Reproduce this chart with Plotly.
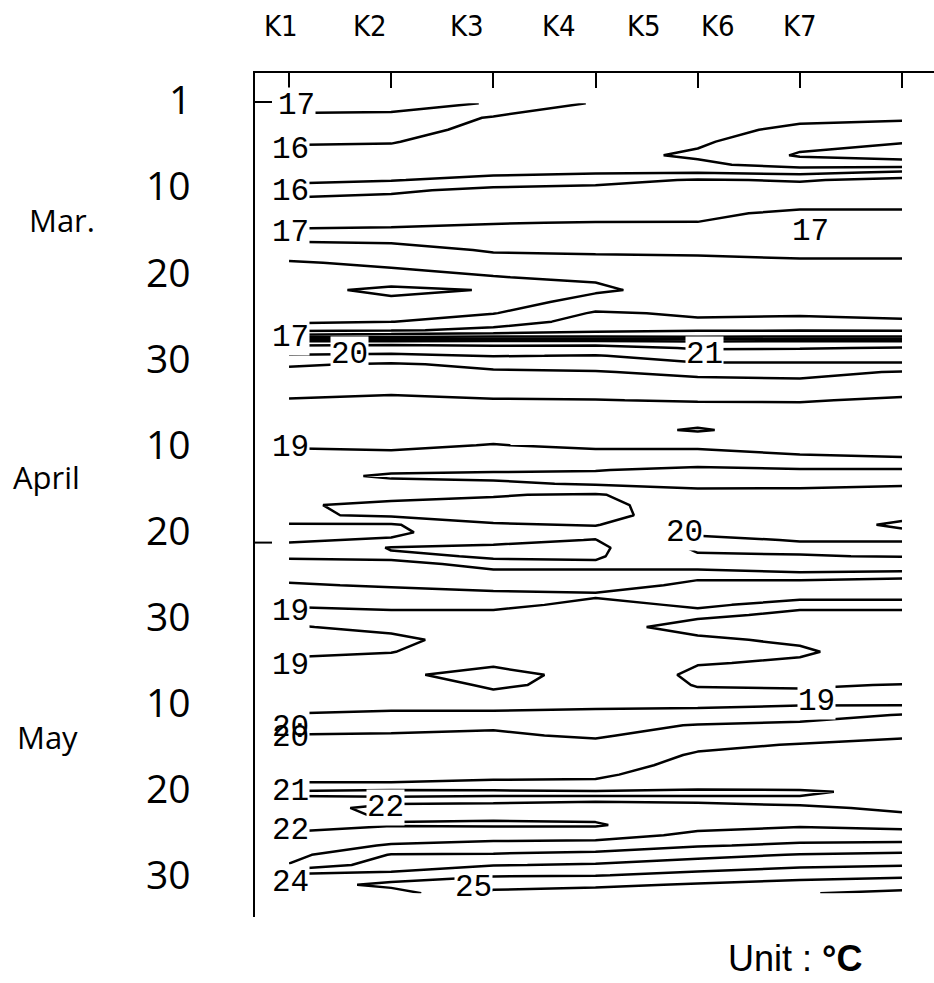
import numpy as np
import plotly.graph_objects as go

# grid positions along the transect (x) and row positions (y, in ten-day label units)
x_pos = [0, 1, 2, 3, 4, 5, 6]
row_pos = [-0.02, 0.15, 0.29, 0.43, 0.59, 0.70, 0.79, 0.88, 1.00, 1.11,
           1.27, 1.38, 1.54, 1.70, 1.85, 2.02, 2.17, 2.31, 2.44, 2.54,
           2.64, 2.71, 2.78, 2.85, 2.94, 3.04, 3.13, 3.28, 3.46, 3.63,
           3.81, 3.99, 4.16, 4.28, 4.35, 4.44, 4.57, 4.69, 4.81, 4.92,
           5.01, 5.10, 5.19, 5.29, 5.38, 5.51, 5.63, 5.74, 5.86, 5.98,
           6.12, 6.27, 6.41, 6.54, 6.68, 6.80, 6.92, 7.03, 7.15, 7.27,
           7.39, 7.50, 7.62, 7.74, 7.85, 7.97, 8.05, 8.15, 8.24, 8.34,
           8.44, 8.56, 8.68, 8.79, 8.91, 9.03, 9.14, 9.24]

# temperature (deg C) columns at each x position
t_x0 = [17.4, 16.8, 16.5, 16.1, 15.7, 15.6, 15.7, 15.85, 16.3, 17.2,
        17.4, 17.15, 16.8, 17.3, 16.95, 16.6, 16.4, 16.5, 16.7, 16.8,
        17.8, 19.4, 22.4, 21.7, 20.9, 20.1, 19.8, 19.4, 18.95, 18.7,
        18.6, 18.9, 19.4, 19.5, 19.6, 19.7, 19.5, 19.1, 19.15, 20.1,
        20.3, 20.1, 19.8, 19.1, 18.8, 18.85, 19.05, 19.2, 19.05, 18.8,
        19.05, 19.2, 19.1, 18.9, 18.7, 18.6, 18.6, 18.7, 19.05, 19.5,
        20.05, 20.3, 20.4, 20.5, 20.7, 21.1, 22.1, 21.9, 21.7, 21.6,
        21.8, 22.1, 22.4, 22.7, 23.05, 25.3, 25.4, 24.9]
t_x1 = [17.3, 16.8, 16.5, 16.05, 15.7, 15.6, 15.7, 15.95, 16.8, 17.3,
        17.4, 17.1, 16.8, 17.2, 17.1, 16.8, 15.7, 16.3, 16.8, 16.98,
        17.9, 19.6, 22.4, 21.6, 20.8, 19.9, 19.6, 19.1, 18.95, 18.7,
        18.7, 18.9, 19.2, 19.8, 20.15, 19.7, 19.3, 18.8, 18.85, 20.1,
        20.2, 19.9, 18.95, 19.1, 18.9, 18.8, 18.95, 19.2, 19.1, 18.9,
        18.85, 19.15, 19.02, 18.8, 18.1, 18.6, 18.7, 18.85, 19.1, 19.6,
        20.1, 20.3, 20.4, 20.5, 20.7, 21.1, 22.3, 21.8, 22.2, 22.1,
        21.95, 22.4, 23.1, 24.05, 24.6, 25.2, 26.3, 25.5]
t_x2 = [16.95, 15.9, 15.6, 15.5, 15.5, 15.6, 15.8, 16.3, 17.3, 17.4,
        17.3, 17.02, 16.8, 16.95, 17.2, 16.98, 16.08, 16.5, 16.95, 17.6,
        18.2, 19.8, 22.5, 21.7, 21.05, 20.2, 19.9, 19.3, 18.97, 18.7,
        18.8, 19.02, 19.5, 19.9, 20.2, 19.85, 19.05, 18.8, 18.75, 19.05,
        19.3, 19.15, 18.9, 18.95, 19.1, 18.9, 18.85, 19.1, 19.1, 18.9,
        18.8, 18.7, 18.6, 18.1, 17.8, 17.85, 18.2, 18.7, 19.2, 19.9,
        20.1, 20.3, 20.4, 20.6, 20.8, 21.2, 22.2, 21.8, 22.3, 22.1,
        21.9, 22.6, 23.3, 24.1, 24.95, 25.9, 26.7, 27.2]
t_x3 = [15.9, 15.5, 15.4, 15.3, 15.3, 15.5, 15.9, 16.6, 17.4, 17.5,
        17.3, 16.98, 16.7, 16.9, 17.2, 17.1, 16.85, 17.4, 18.1, 18.3,
        18.7, 19.8, 22.5, 21.6, 20.95, 20.3, 19.95, 19.4, 18.98, 18.5,
        18.4, 18.9, 19.3, 19.95, 20.3, 20.1, 18.9, 18.7, 18.7, 18.97,
        19.2, 18.98, 18.8, 18.9, 19.1, 18.9, 18.8, 19.05, 18.9, 18.85,
        18.8, 18.8, 18.7, 18.5, 18.2, 18.3, 18.7, 18.85, 19.2, 19.7,
        19.9, 20.2, 20.4, 20.6, 20.85, 21.2, 22.1, 21.9, 22.4, 22.2,
        21.9, 22.6, 23.4, 24.3, 25.1, 25.95, 26.8, 27.4]
t_x4 = [15.5, 15.4, 15.3, 15.15, 14.85, 15.2, 15.95, 17.1, 17.5, 17.5,
        17.2, 16.98, 16.7, 16.85, 17.2, 17.3, 17.4, 17.6, 17.9, 18.1,
        18.9, 19.8, 22.3, 22.1, 21.4, 20.9, 20.2, 19.7, 19.05, 18.6,
        17.9, 18.9, 19.3, 20.3, 20.35, 20.15, 19.8, 19.6, 19.5, 19.6,
        19.85, 20.2, 20.15, 19.9, 19.1, 18.9, 19.1, 19.1, 19.05, 18.9,
        19.2, 18.9, 18.8, 18.95, 19.2, 19.05, 18.8, 18.9, 19.2, 20.05,
        20.4, 20.8, 21.1, 21.3, 21.5, 21.8, 22.1, 21.9, 22.2, 22.35,
        22.7, 23.2, 23.9, 24.7, 25.5, 26.3, 27.1, 27.7]
t_x5 = [15.4, 15.2, 14.8, 14.3, 13.9, 14.6, 15.7, 16.9, 17.5, 17.5,
        16.8, 16.6, 16.5, 16.8, 17.1, 17.3, 17.4, 17.6, 17.95, 18.1,
        18.95, 19.9, 22.4, 22.05, 21.4, 20.9, 20.2, 19.8, 19.05, 18.7,
        18.5, 18.75, 19.15, 20.1, 20.2, 20.2, 19.7, 19.6, 19.6, 19.7,
        19.85, 19.95, 20.2, 19.95, 19.3, 18.9, 19.1, 19.1, 18.9, 19.1,
        19.3, 19.1, 18.9, 19.1, 19.2, 19.05, 18.9, 18.95, 19.6, 20.2,
        20.6, 21.05, 21.2, 21.3, 21.5, 21.7, 22.1, 21.9, 22.05, 22.4,
        22.9, 23.4, 24.2, 25.05, 25.8, 26.6, 27.4, 27.95]
t_x6 = [15.3, 15.1, 14.7, 14.05, 13.6, 14.5, 16.2, 17.3, 17.5, 17.5,
        16.8, 16.6, 16.5, 16.8, 17.1, 17.3, 17.4, 17.6, 17.9, 18.05,
        18.9, 19.9, 22.4, 21.95, 21.4, 20.9, 19.95, 19.4, 18.9, 18.6,
        18.5, 18.8, 19.05, 20.1, 20.2, 20.05, 19.8, 19.6, 19.85, 20.1,
        19.9, 19.95, 20.2, 20.05, 19.2, 18.9, 19.2, 19.1, 18.9, 19.1,
        19.3, 19.4, 19.4, 19.3, 19.2, 18.98, 18.8, 18.95, 20.05, 20.4,
        20.9, 21.2, 21.3, 21.4, 21.5, 21.6, 21.8, 21.9, 21.95, 22.05,
        22.7, 23.4, 24.3, 25.2, 25.95, 26.8, 27.6, 28.2]

stations = ["K1", "K2", "K3", "K4", "K5", "K6", "K7"]
station_pos = [-0.08, 0.79, 1.74, 2.64, 3.47, 4.2, 5.0]

day_labels = ["1", "10", "20", "30", "10", "20", "30", "10", "20", "30"]
months = ["Mar.", "April", "May"]
month_pos = [1.35, 4.36, 7.41]

# contour labels: (text, x, y)
contour_labels = [
    ("17", 0.07, 0.01), ("16", 0.01, 0.52), ("16", 0.01, 1.01),
    ("17", 0.01, 1.49), ("17", 5.10, 1.48), ("17", 0.01, 2.72),
    ("20", 0.59, 2.92), ("21", 4.07, 2.93), ("19", 0.01, 4.01),
    ("20", 3.87, 5.01), ("19", 0.01, 5.94), ("19", 0.01, 6.57),
    ("19", 5.16, 6.99), ("20", 0.01, 7.30), ("20", 0.01, 7.42),
    ("21", 0.01, 8.05), ("22", 0.94, 8.23), ("22", 0.01, 8.51),
    ("24", 0.01, 9.11), ("25", 1.81, 9.17),
]

# small marks on the left frame (row positions)
frame_marks = [-0.035, 5.13]

z = np.array([t_x0, t_x1, t_x2, t_x3, t_x4, t_x5, t_x6]).T

fig = go.Figure()
fig.add_trace(go.Contour(
    x=x_pos, y=row_pos, z=z,
    contours=dict(coloring="lines", start=13, end=29, size=1, showlabels=False),
    line=dict(width=2.5, smoothing=0),
    colorscale=[[0, "black"], [1, "black"]],
    showscale=False, hoverinfo="skip",
))

W, H = 934, 983
L, R, T, B = 255, 0, 73, 66
plot_w = W - L - R

annotations = []
for i, (txt, xx, yy) in enumerate(contour_labels):
    annotations.append(dict(
        text=txt, x=xx, y=yy, xref="x", yref="y", showarrow=False,
        font=dict(family="Liberation Mono, Courier New, monospace", size=31, color="black"),
        bgcolor="white" if i != 14 else "rgba(0,0,0,0)", borderpad=0,
        xanchor="center", yanchor="middle",
    ))

for k, lab in enumerate(day_labels):
    annotations.append(dict(
        text=lab, x=(193 - L) / plot_w, y=k, xref="paper", yref="y",
        yshift=6 - 0.7 * k, showarrow=False, xanchor="right", yanchor="middle",
        font=dict(family="Open Sans, Lato, sans-serif", size=39, color="black"),
    ))

month_px = [62, 46, 48]
for m, yy, px in zip(months, month_pos, month_px):
    annotations.append(dict(
        text=m, x=(px - L) / plot_w, y=yy, xref="paper", yref="y",
        showarrow=False, xanchor="center", yanchor="middle",
        font=dict(family="Open Sans, Lato, sans-serif", size=31, color="black"),
    ))

for s, sx in zip(stations, station_pos):
    annotations.append(dict(
        text=s, x=sx, y=1 + (T - 26) / (H - T - B), xref="x", yref="paper",
        showarrow=False, xanchor="center", yanchor="middle",
        font=dict(family="Liberation Sans Narrow, DejaVu Sans Condensed, sans-serif",
                  size=29, color="black"),
    ))

annotations.append(dict(
    text="Unit : <b>°C</b>", x=(795 - L) / plot_w, y=-(958 - (H - B)) / (H - T - B),
    xref="paper", yref="paper", showarrow=False, xanchor="center", yanchor="middle",
    font=dict(family="Liberation Sans, Arial, sans-serif", size=36, color="black"),
))

shapes = [dict(type="line", xref="paper", yref="y", x0=0, x1=17 / plot_w, y0=m, y1=m,
               line=dict(color="black", width=2)) for m in frame_marks]

fig.update_layout(
    width=W, height=H,
    margin=dict(l=L, r=R, t=T, b=B),
    paper_bgcolor="white", plot_bgcolor="white",
    showlegend=False,
    annotations=annotations,
    shapes=shapes,
    xaxis=dict(range=[-0.333, 6.313], side="top", showline=True, linecolor="black",
               linewidth=2, ticks="inside", ticklen=15, tickwidth=2, tickcolor="black",
               tickvals=x_pos, showticklabels=False, showgrid=False, zeroline=False),
    yaxis=dict(range=[9.519, -0.375], showline=True, linecolor="black", linewidth=2,
               ticks="", showticklabels=False, showgrid=False, zeroline=False),
)

fig.write_html("out.html")
